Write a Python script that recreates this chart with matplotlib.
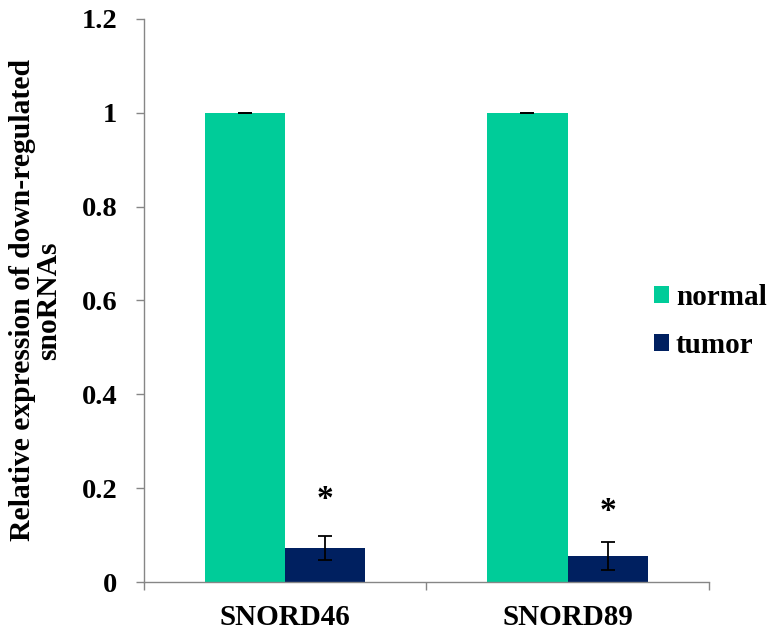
import matplotlib
matplotlib.use('Agg')
import matplotlib.pyplot as plt
import numpy as np

# Data
categories = ['SNORD46', 'SNORD89']
normal_vals = [1.0, 1.0]
normal_err = [0.0, 0.0]
tumor_vals = [0.072, 0.055]
tumor_err = [0.026, 0.030]
star_y = [0.176, 0.150]
y_ticks = [0, 0.2, 0.4, 0.6, 0.8, 1.0, 1.2]
y_labels = ['0', '0.2', '0.4', '0.6', '0.8', '1', '1.2']

NORMAL_COLOR = '#00CC99'
TUMOR_COLOR = '#002060'
AXIS_GRAY = '#868686'

plt.rcParams['font.family'] = ['Liberation Serif', 'DejaVu Serif']
plt.rcParams['font.weight'] = 'bold'

fig = plt.figure(figsize=(7.7, 6.32), dpi=100)
ax = fig.add_axes([0.1864, 0.0791, 0.7344, 0.8909])

x = np.arange(len(categories))
width = 0.284

err_style = dict(elinewidth=1.3, capthick=1.3, ecolor='black')
ax.bar(x - width / 2, normal_vals, width, color=NORMAL_COLOR, label='normal',
       yerr=normal_err, capsize=4.7, error_kw=err_style)
ax.bar(x + width / 2, tumor_vals, width, color=TUMOR_COLOR, label='tumor',
       yerr=tumor_err, capsize=4.7, error_kw=err_style)

# significance stars above tumor bars
for xi, sy in zip(x, star_y):
    ax.text(xi + width / 2, sy, '*', ha='center', va='center', fontsize=24, fontweight='bold')

ax.set_xlim(-0.5, len(categories) - 0.5)
ax.set_ylim(0, 1.2)

# Excel-style axes
for side in ['top', 'right']:
    ax.spines[side].set_visible(False)
for side in ['left', 'bottom']:
    ax.spines[side].set_color(AXIS_GRAY)
    ax.spines[side].set_linewidth(1.0)

ax.set_yticks(y_ticks)
ax.set_yticklabels(y_labels)
ax.tick_params(axis='y', length=6, width=1.0, color=AXIS_GRAY, pad=13, labelsize=20.5)

# major x ticks between categories, labels on minor ticks
ax.set_xticks(np.arange(-0.5, len(categories), 1.0))
ax.set_xticklabels([])
ax.tick_params(axis='x', which='major', length=6, width=1.0, color=AXIS_GRAY)
ax.set_xticks(x, minor=True)
ax.set_xticklabels(categories, minor=True)
ax.tick_params(axis='x', which='minor', length=0, pad=16, labelsize=21)

ax.set_ylabel('Relative expression of down-regulated\nsnoRNAs', fontsize=21.3,
              fontweight='bold', labelpad=14, linespacing=0.95)

ax.legend(loc='upper left', bbox_to_anchor=(654 / 770, 1 - 284 / 632),
          bbox_transform=fig.transFigure, frameon=False, fontsize=21,
          handlelength=0.5, handleheight=0.5, handletextpad=0.25,
          borderpad=0, borderaxespad=0, labelspacing=0.72)

fig.savefig('out.png', dpi=100)
